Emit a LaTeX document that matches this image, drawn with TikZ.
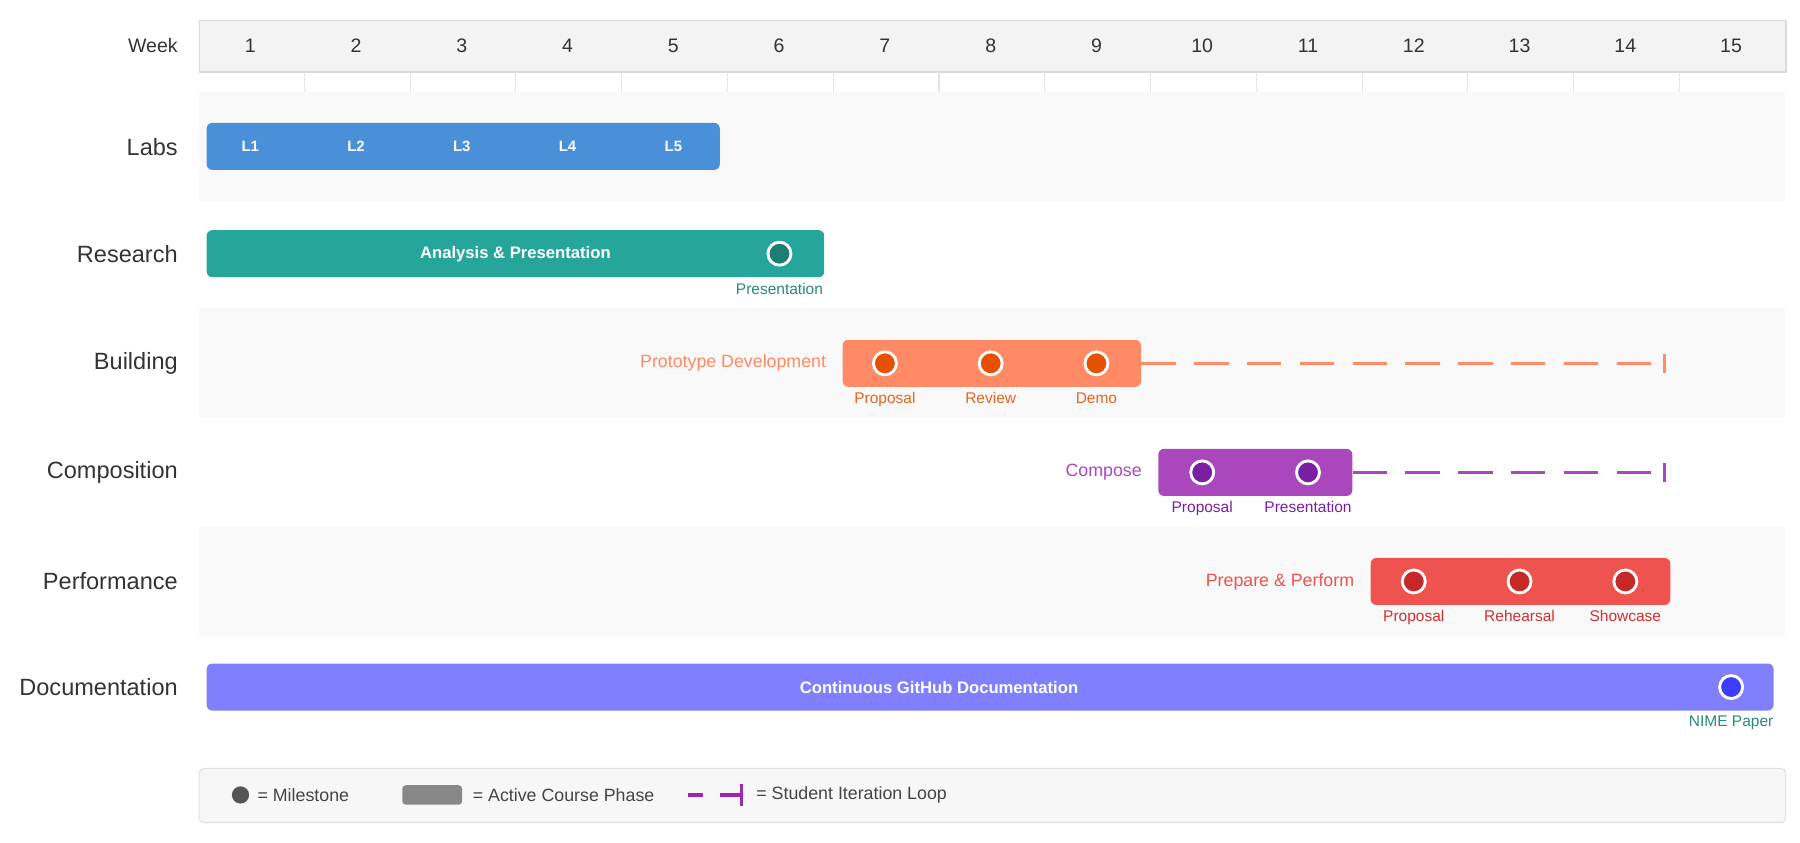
\documentclass[tikz,border=0pt]{standalone}
\usepackage{fontspec}
\setmainfont{Liberation Sans}
\usetikzlibrary{positioning}

\definecolor{hdrfill}{HTML}{F3F3F3}
\definecolor{hdrline}{HTML}{D9D9D9}
\definecolor{bandfill}{HTML}{F9F9F9}
\definecolor{tickgray}{HTML}{E4E4E4}
\definecolor{rowtext}{HTML}{333333}
\definecolor{labblue}{HTML}{4A90D9}
\definecolor{resbar}{HTML}{26A69A}
\definecolor{resms}{HTML}{1D7D72}
\definecolor{restext}{HTML}{26897D}
\definecolor{buildbar}{HTML}{FF8A65}
\definecolor{buildms}{HTML}{E65100}
\definecolor{buildtext}{HTML}{E8641E}
\definecolor{compbar}{HTML}{AB47BC}
\definecolor{compms}{HTML}{7B1FA2}
\definecolor{perfbar}{HTML}{EF5350}
\definecolor{perfms}{HTML}{C62828}
\definecolor{perftext}{HTML}{D32F2F}
\definecolor{docbar}{HTML}{8080FF}
\definecolor{docms}{HTML}{3D3DFF}
\definecolor{legfill}{HTML}{F7F7F7}
\definecolor{legline}{HTML}{E0E0E0}
\definecolor{legms}{HTML}{555555}
\definecolor{legphase}{HTML}{888888}
\definecolor{legloop}{HTML}{9C27B0}
\definecolor{legtext}{HTML}{444444}

\tikzset{
  phase/.style={rectangle, rounded corners=5pt, minimum height=41pt, inner sep=0pt,
    text=white, font=\fontsize{14.5}{17}\selectfont\bfseries},
  mstone/.style={circle, draw=white, line width=2.5pt, minimum size=20pt, inner sep=0pt},
  rowlabel/.style={anchor=east, inner sep=0pt, text=rowtext, font=\fontsize{20.5}{24}\selectfont},
  weeknum/.style={text=rowtext, font=\fontsize{17}{20}\selectfont},
  msnote/.style={inner sep=1pt, font=\fontsize{13.5}{16}\selectfont},
  sidenote/.style={inner sep=0pt, font=\fontsize{15.5}{18}\selectfont},
  iterloop/.style={line width=3pt, dash pattern=on 30pt off 16pt},
  looptick/.style={rectangle, inner sep=0pt, minimum width=3pt, minimum height=16pt},
  legtext/.style={inner sep=0pt, text=legtext, font=\fontsize{15.5}{18}\selectfont},
}

\begin{document}
\begin{tikzpicture}[x=1pt, y=-1pt]
\useasboundingbox (0,0) rectangle (1568,733.5);

% Week header
\node[draw=hdrline, line width=1.5pt, fill=hdrfill, minimum width=1382pt, minimum height=45pt,
  inner sep=0pt, anchor=north west] (header) at (173,17) {};
\node[weeknum, anchor=east, inner sep=0pt] (week) at (155,40) {Week};
\foreach \i in {1,...,15} {
    \pgfmathsetmacro\x{218 + 92.14*(\i-1)}
    \node[weeknum] (w\i) at (\x,40) {\i};
}
\foreach \k in {1,...,14} {
    \pgfmathsetmacro\x{173 + 92.14*\k}
    \draw[tickgray, line width=1pt] (\x,63) -- (\x,80);
}

% Row bands
\fill[bandfill] (173,80) rectangle (1555,175);
\fill[bandfill] (173,268) rectangle (1555,364);
\fill[bandfill] (173,459) rectangle (1555,555);

% Row labels
\node[rowlabel] (lab) at (155,128) {Labs};
\node[rowlabel] (res) at (155,221) {Research};
\node[rowlabel] (bld) at (155,316.5) {Building};
\node[rowlabel] (cmp) at (155,411.5) {Composition};
\node[rowlabel] (prf) at (155,506.5) {Performance};
\node[rowlabel] (dcm) at (155,598.5) {Documentation};

% Labs
\node[phase, fill=labblue, minimum width=447pt] (labs) at (403.5,127.5) {};
\foreach \i in {1,...,5} {
    \pgfmathsetmacro\x{218 + 92.14*(\i-1)}
    \node[text=white, font=\fontsize{13}{15}\selectfont\bfseries] (l\i) at (\x,127.5) {L\i};
}

% Research
\node[phase, fill=resbar, minimum width=538pt] (research) at (449,221) {Analysis \& Presentation};
\node[mstone, fill=resms] (r1) at (679,221) {};
\node[msnote, text=restext, below=13pt of r1] (r1l) {Presentation};

% Building
\node[phase, fill=buildbar, minimum width=260pt] (build) at (864,316.5) {};
\node[sidenote, text=buildbar, left=14pt of build] (buildname) {Prototype Development};
\foreach \w/\n/\t in {7/b1/Proposal, 8/b2/Review, 9/b3/Demo} {
    \pgfmathsetmacro\x{218 + 92.14*(\w-1)}
    \node[mstone, fill=buildms] (\n) at (\x,316.5) {};
    \node[msnote, text=buildtext, below=13pt of \n] {\t};
}
\node[looptick, fill=buildbar] (buildend) at (1450,316.5) {};
\draw[iterloop, buildbar] (build.east) -- (buildend.center);

% Composition
\node[phase, fill=compbar, minimum width=169pt] (comp) at (1093.5,411.5) {};
\node[sidenote, text=compbar, left=14pt of comp] (compname) {Compose};
\foreach \w/\n/\t in {10/c1/Proposal, 11/c2/Presentation} {
    \pgfmathsetmacro\x{218 + 92.14*(\w-1)}
    \node[mstone, fill=compms] (\n) at (\x,411.5) {};
    \node[msnote, text=compms, below=13pt of \n] {\t};
}
\node[looptick, fill=compbar] (compend) at (1450,411.5) {};
\draw[iterloop, compbar] (comp.east) -- (compend.center);

% Performance
\node[phase, fill=perfbar, minimum width=261pt] (perf) at (1324.5,506.5) {};
\node[sidenote, text=perfbar, left=14pt of perf] (perfname) {Prepare \& Perform};
\foreach \w/\n/\t in {12/p1/Proposal, 13/p2/Rehearsal, 14/p3/Showcase} {
    \pgfmathsetmacro\x{218 + 92.14*(\w-1)}
    \node[mstone, fill=perfms] (\n) at (\x,506.5) {};
    \node[msnote, text=perftext, below=13pt of \n] {\t};
}

% Documentation
\node[phase, fill=docbar, minimum width=1365pt] (doc) at (862.5,598.5) {};
\node[phase, text=white] (doctext) at (818,598.5) {Continuous GitHub Documentation};
\node[mstone, fill=docms] (d1) at (1508,598.5) {};
\node[msnote, text=restext, below=13pt of d1] (d1l) {NIME Paper};

% Legend
\node[draw=legline, line width=1pt, fill=legfill, rounded corners=4pt, minimum width=1382pt,
  minimum height=47pt, inner sep=0pt, anchor=north west] (legend) at (173,669) {};
\node[circle, fill=legms, minimum size=15pt, inner sep=0pt] (lgms) at (209.5,692.5) {};
\node[legtext, right=7pt of lgms] (lgmstext) {= Milestone};
\node[rectangle, fill=legphase, rounded corners=3pt, minimum width=52pt, minimum height=17pt,
  inner sep=0pt] (lgphase) at (376.5,692.5) {};
\node[legtext, right=9pt of lgphase] (lgphasetext) {= Active Course Phase};
\coordinate (lgstart) at (599,692.5);
\node[looptick, fill=legloop, minimum height=19pt] (lgtick) at (646,692.5) {};
\draw[legloop, line width=3pt, dash pattern=on 13pt off 15pt on 25pt off 5pt] (lgstart) -- (lgtick.center);
\node[legtext, right=11pt of lgtick] (lgtext) {= Student Iteration Loop};
\end{tikzpicture}
\end{document}
